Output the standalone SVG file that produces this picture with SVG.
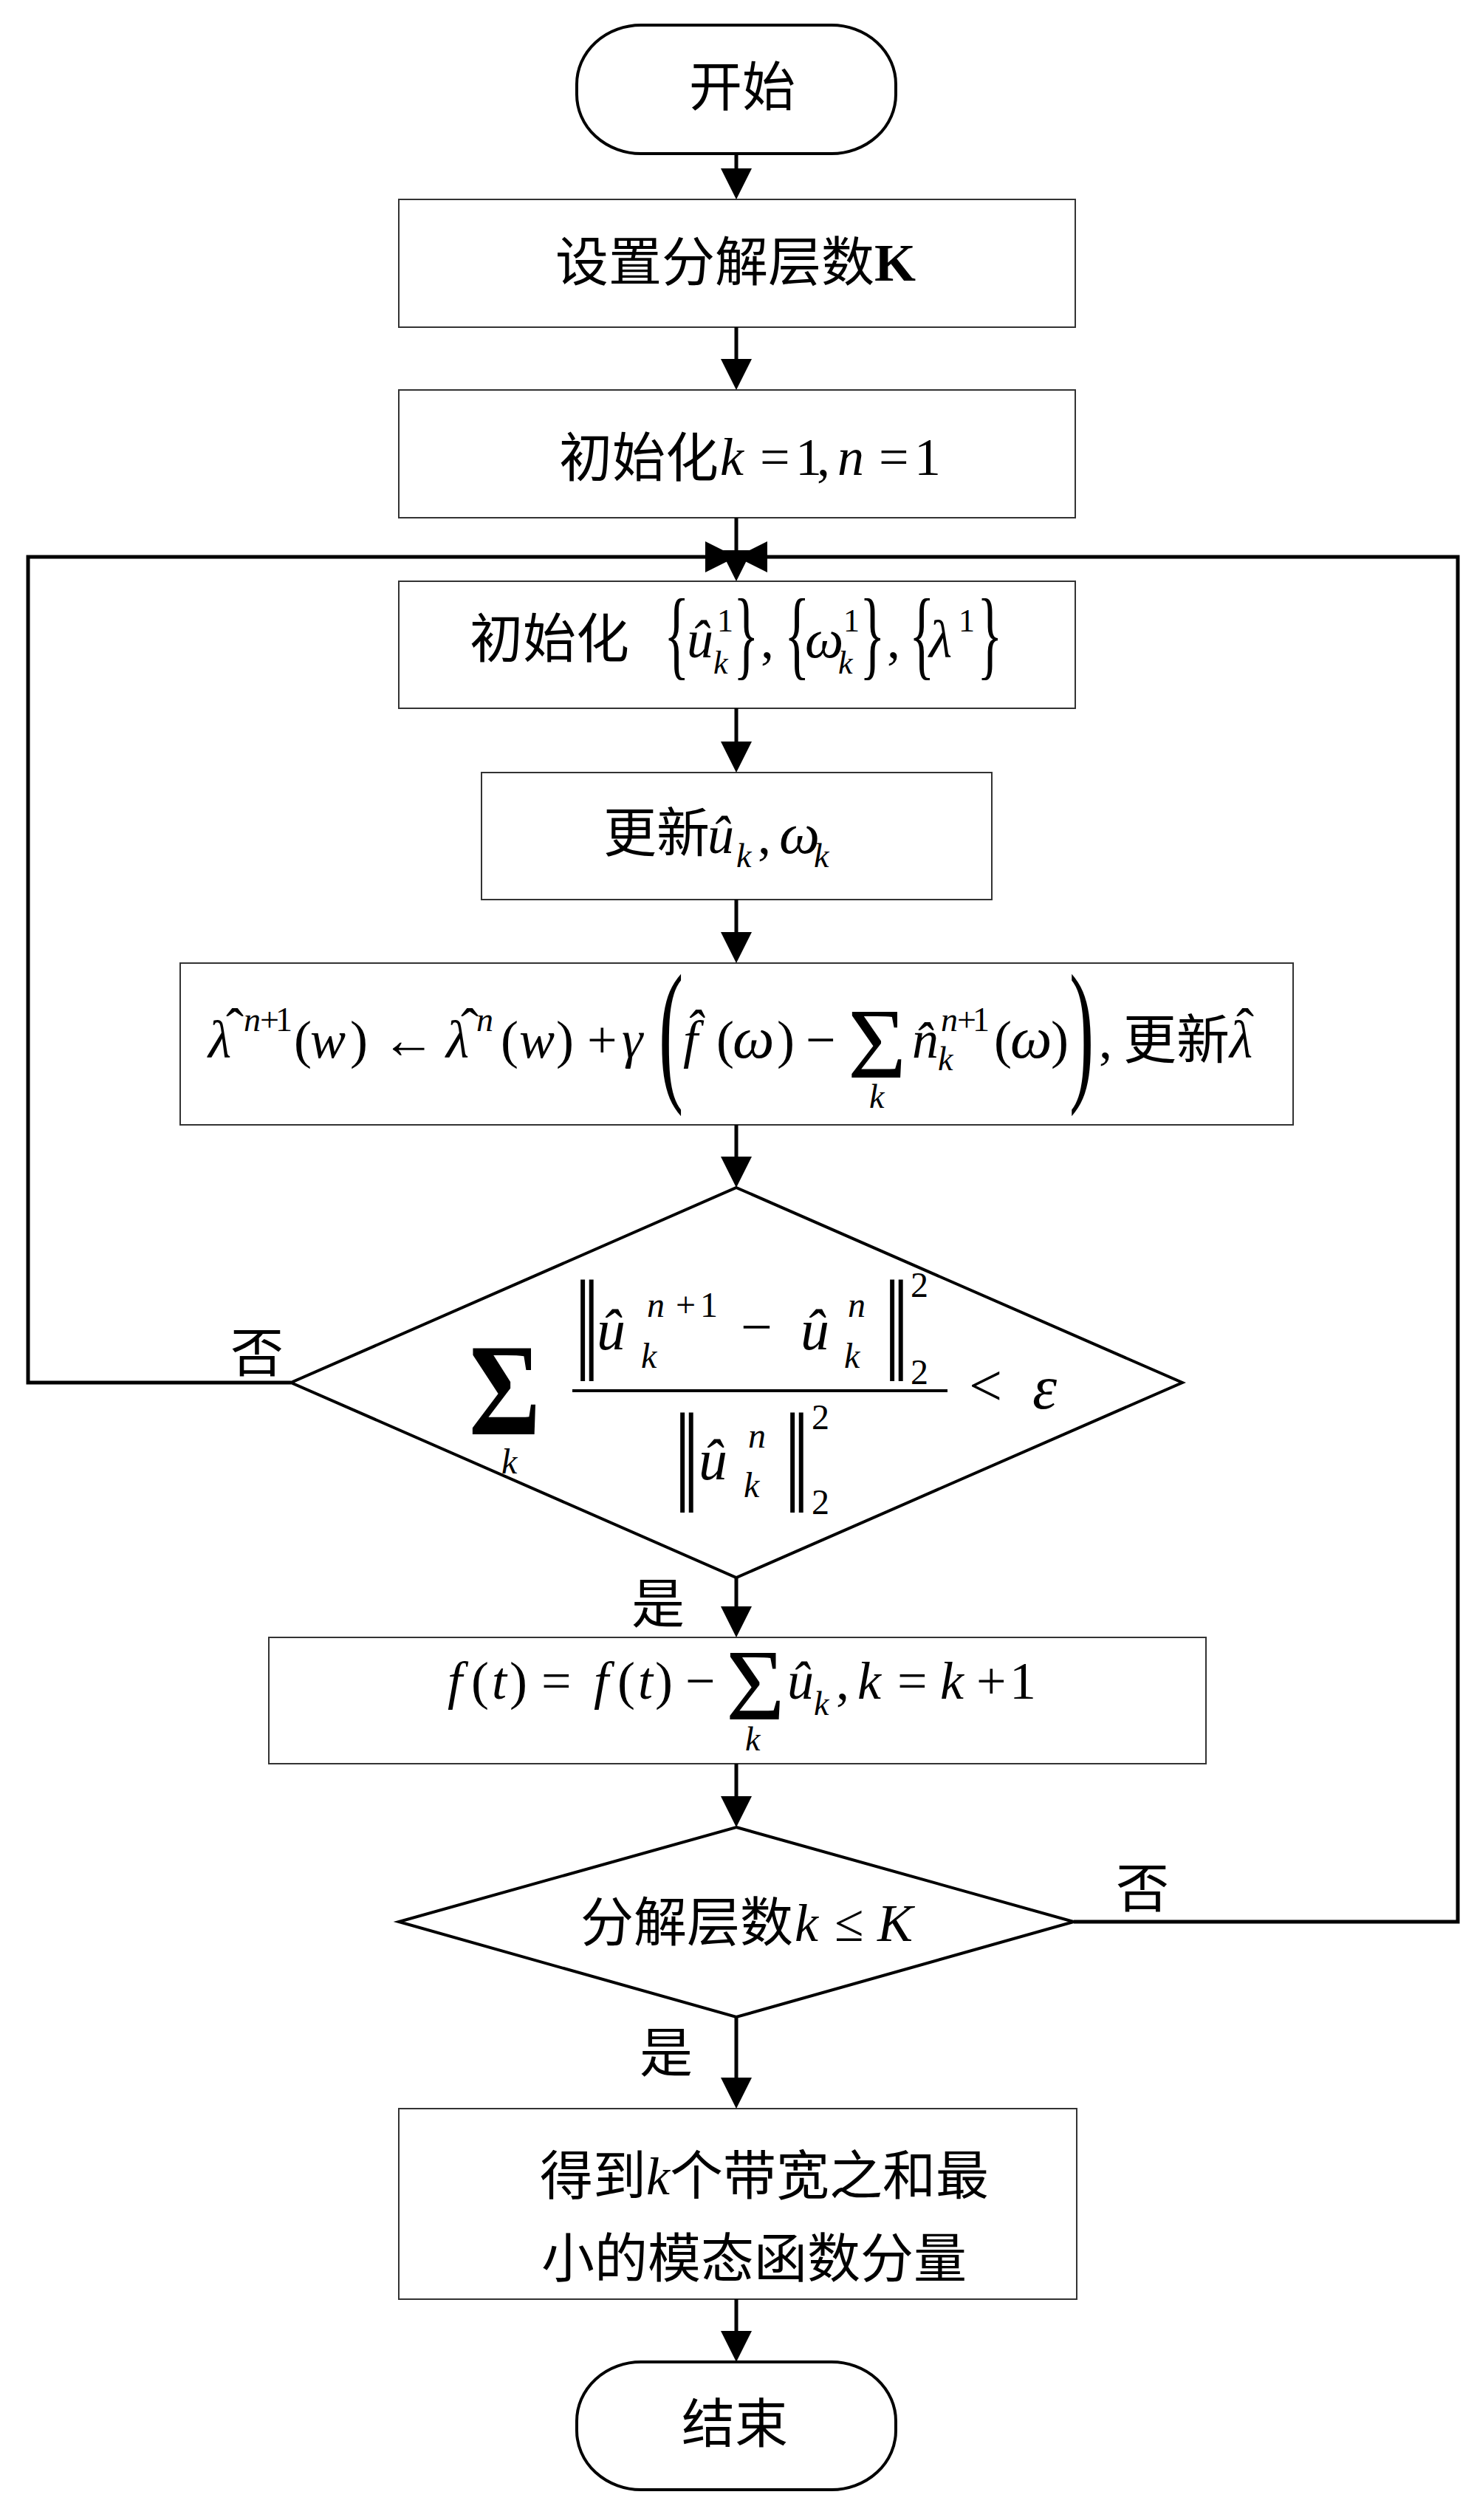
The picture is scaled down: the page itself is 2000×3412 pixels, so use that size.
<svg xmlns="http://www.w3.org/2000/svg" width="2000" height="3412" viewBox="0 0 2000 3412">
<style>
.bg{fill:#fff}
.box{fill:#fff;stroke:#333;stroke-width:2}
.term{fill:#fff;stroke:#000;stroke-width:4}
.dia{fill:#fff;stroke:#000;stroke-width:4;stroke-linejoin:miter}
.conn{fill:none;stroke:#000;stroke-width:5;stroke-linejoin:miter}
.cjk{font-family:"Noto Sans CJK SC","Noto Sans CJK JP",sans-serif;font-size:72px;fill:#000}
.m{font-family:"Liberation Serif","Times New Roman",serif;font-size:72px;fill:#000}
.i{font-style:italic}
.s{font-size:46px}
.bar{font-family:"DejaVu Sans",sans-serif;font-size:72px}
</style>
<defs>
<marker id="ah" markerUnits="userSpaceOnUse" markerWidth="42" markerHeight="42" viewBox="0 0 42 42" refX="22" refY="21" orient="auto">
<path d="M0,0 L42,21 L0,42 Z" fill="#000"/>
</marker>
</defs>
<rect class="bg" x="0" y="0" width="2000" height="3412"/>

<g id="start">
<rect class="term" x="781" y="34" width="432" height="174" rx="87" ry="80"/>
<text class="cjk" x="1005" y="143" font-size="70" text-anchor="middle">开始</text>
</g>

<g id="set-k">
<rect class="box" x="540" y="270" width="916" height="173"/>
<text class="cjk" x="996" y="380" text-anchor="middle">设置分解层数<tspan font-family="Liberation Serif, serif" font-weight="bold">K</tspan></text>
</g>

<g id="init-kn">
<rect class="box" x="540" y="528" width="916" height="173"/>
<text class="cjk" x="757" y="645">初始化</text>
<text class="m" y="643"><tspan class="i" x="975">k</tspan><tspan x="1029">=</tspan><tspan x="1077">1</tspan><tspan x="1106">,</tspan><tspan class="i" x="1134">n</tspan><tspan x="1190">=</tspan><tspan x="1238">1</tspan></text>
</g>

<g id="init-vars">
<rect class="box" x="540" y="787" width="916" height="172"/>
<text class="cjk" x="636" y="890">初始化</text>
<g class="m" font-size="68">
<text transform="translate(899,903) scale(1,1.85)">{</text>
<text transform="translate(993,903) scale(1,1.85)">}</text>
<text transform="translate(1062,903) scale(1,1.85)">{</text>
<text transform="translate(1164,903) scale(1,1.85)">}</text>
<text transform="translate(1231,903) scale(1,1.85)">{</text>
<text transform="translate(1323,903) scale(1,1.85)">}</text>
<text y="890"><tspan class="i" x="930">û</tspan><tspan x="971" y="855" font-size="44">1</tspan><tspan class="i" x="966" y="912" font-size="44">k</tspan><tspan x="1030" y="890">,</tspan><tspan class="i" x="1090" font-size="74">ω</tspan><tspan x="1142" y="855" font-size="44">1</tspan><tspan class="i" x="1135" y="912" font-size="44">k</tspan><tspan x="1201" y="890">,</tspan><tspan class="i" x="1258">λ</tspan><tspan x="1298" y="855" font-size="44">1</tspan></text>
</g>
</g>

<g id="update-u">
<rect class="box" x="652" y="1046" width="691" height="172"/>
<text class="cjk" x="817" y="1153">更新</text>
<text class="m" y="1155"><tspan class="i" x="958">û</tspan><tspan class="i" x="997" y="1174" font-size="46">k</tspan><tspan x="1026" y="1155">,</tspan><tspan class="i" x="1055" font-size="78">ω</tspan><tspan class="i" x="1102" y="1174" font-size="46">k</tspan></text>
</g>

<g id="update-lambda">
<rect class="box" x="244" y="1304" width="1507" height="219"/>
<g class="m">
<text font-size="100" transform="translate(892,1466) scale(1,2.13)">(</text>
<text font-size="100" transform="translate(1448,1466) scale(1,2.13)">)</text>
<text y="1432"><tspan class="i" x="282">λ</tspan><tspan x="306" y="1415">ˆ</tspan><tspan x="330" y="1396" class="i" font-size="46">n</tspan><tspan x="352" font-size="46">+</tspan><tspan x="373" font-size="46">1</tspan><tspan x="398" y="1432">(</tspan><tspan class="i" x="420">w</tspan><tspan x="474">)</tspan><tspan x="517">←</tspan><tspan class="i" x="604">λ</tspan><tspan x="624" y="1415">ˆ</tspan><tspan class="i" x="645" y="1396" font-size="46">n</tspan><tspan x="678" y="1432">(</tspan><tspan class="i" x="703">w</tspan><tspan x="753">)</tspan><tspan x="795">+</tspan><tspan class="i" x="842">γ</tspan><tspan class="i" x="925">f̂</tspan><tspan x="970">(</tspan><tspan class="i" x="992" font-size="80">ω</tspan><tspan x="1052">)</tspan><tspan x="1091">−</tspan><tspan x="1148" y="1459" font-size="136">Σ</tspan><tspan class="i" x="1177" y="1500" font-size="46">k</tspan><tspan class="i" x="1235" y="1432">n̂</tspan><tspan class="i" x="1274" y="1396" font-size="46">n</tspan><tspan x="1296" font-size="46">+</tspan><tspan x="1317" font-size="46">1</tspan><tspan class="i" x="1270" y="1449" font-size="46">k</tspan><tspan x="1346" y="1432">(</tspan><tspan class="i" x="1368" font-size="80">ω</tspan><tspan x="1423">)</tspan><tspan x="1488">,</tspan><tspan class="i" x="1665">λ</tspan><tspan x="1674" y="1415">ˆ</tspan></text>
</g>
<text class="cjk" x="1521" y="1433" font-size="70">更新</text>
</g>

<g id="check-converge">
<polygon class="dia" points="997,1608 1601,1872 997,2136 394,1872"/>
<g class="m">
<text class="bar" transform="translate(777,1838) scale(1,1.9)">‖</text>
<text class="bar" transform="translate(1196,1838) scale(1,1.9)">‖</text>
<text class="bar" transform="translate(912,2016) scale(1,1.87)">‖</text>
<text class="bar" transform="translate(1061,2016) scale(1,1.87)">‖</text>
<line x1="775" y1="1883" x2="1283" y2="1883" stroke="#000" stroke-width="4"/>
<text x="635" y="1942" font-size="177" font-weight="bold" textLength="97" lengthAdjust="spacingAndGlyphs">Σ</text>
<text y="1827"><tspan class="i" x="679" y="1995" font-size="48">k</tspan><tspan class="i" x="808" y="1827" font-size="78">û</tspan><tspan x="876" y="1783" class="i" font-size="48">n</tspan><tspan x="915" font-size="48">+</tspan><tspan x="948" font-size="48">1</tspan><tspan class="i" x="868" y="1852" font-size="48">k</tspan><tspan x="1003" y="1822" font-size="76">−</tspan><tspan class="i" x="1084" y="1827" font-size="78">û</tspan><tspan class="i" x="1148" y="1783" font-size="48">n</tspan><tspan class="i" x="1143" y="1852" font-size="48">k</tspan><tspan x="1233" y="1756" font-size="48">2</tspan><tspan x="1233" y="1874" font-size="48">2</tspan><tspan x="1312" y="1903" font-size="80">&lt;</tspan><tspan class="i" x="1398" y="1907" font-size="84">ε</tspan><tspan class="i" x="946" y="2003" font-size="78">û</tspan><tspan class="i" x="1013" y="1960" font-size="48">n</tspan><tspan class="i" x="1007" y="2027" font-size="48">k</tspan><tspan x="1099" y="1935" font-size="48">2</tspan><tspan x="1099" y="2050" font-size="48">2</tspan></text>
</g>
</g>

<g id="residual">
<rect class="box" x="364" y="2217" width="1269" height="171"/>
<text class="m" y="2300"><tspan class="i" x="606">f</tspan><tspan x="638">(</tspan><tspan class="i" x="666">t</tspan><tspan x="690">)</tspan><tspan x="733">=</tspan><tspan class="i" x="804">f</tspan><tspan x="836">(</tspan><tspan class="i" x="864">t</tspan><tspan x="887">)</tspan><tspan x="928">−</tspan><tspan x="983" y="2328" font-size="137">Σ</tspan><tspan class="i" x="1009" y="2370" font-size="46">k</tspan><tspan class="i" x="1066" y="2300">û</tspan><tspan class="i" x="1102" y="2322" font-size="46">k</tspan><tspan x="1132" y="2300">,</tspan><tspan class="i" x="1161">k</tspan><tspan x="1215">=</tspan><tspan class="i" x="1273">k</tspan><tspan x="1322">+</tspan><tspan x="1367">1</tspan></text>
</g>

<g id="check-k">
<polygon class="dia" points="997,2474 1454,2602 997,2731 540,2602"/>
<text class="cjk" x="786" y="2628">分解层数</text>
<text class="m" y="2628"><tspan class="i" x="1076">k</tspan><tspan x="1130">≤</tspan><tspan class="i" x="1188">K</tspan></text>
</g>

<g id="result">
<rect class="box" x="540" y="2855" width="918" height="258"/>
<text class="cjk" y="2971"><tspan x="731">得到</tspan><tspan x="875" class="m i">k</tspan><tspan x="907">个带宽之和最</tspan></text>
<text class="cjk" x="733" y="3083">小的模态函数分量</text>
</g>

<g id="end">
<rect class="term" x="781" y="3198" width="432" height="173" rx="87" ry="80"/>
<text class="cjk" x="995" y="3307" font-size="70" text-anchor="middle">结束</text>
</g>

<g id="labels">
<text class="cjk" x="348" y="1857" font-size="68" text-anchor="middle">否</text>
<text class="cjk" x="891" y="2197" font-size="68" text-anchor="middle">是</text>
<text class="cjk" x="1547" y="2582" font-size="68" text-anchor="middle">否</text>
<text class="cjk" x="902" y="2805" font-size="68" text-anchor="middle">是</text>
</g>

<g id="connectors">
<path class="conn" d="M997,208 V250" marker-end="url(#ah)"/>
<path class="conn" d="M997,443 V508" marker-end="url(#ah)"/>
<path class="conn" d="M997,701 V767" marker-end="url(#ah)"/>
<path class="conn" d="M997,959 V1026" marker-end="url(#ah)"/>
<path class="conn" d="M997,1218 V1284" marker-end="url(#ah)"/>
<path class="conn" d="M997,1523 V1588" marker-end="url(#ah)"/>
<path class="conn" d="M997,2136 V2197" marker-end="url(#ah)"/>
<path class="conn" d="M997,2388 V2454" marker-end="url(#ah)"/>
<path class="conn" d="M997,2731 V2835" marker-end="url(#ah)"/>
<path class="conn" d="M997,3113 V3178" marker-end="url(#ah)"/>
<path class="conn" d="M394,1872 H38 V754 H977" marker-end="url(#ah)"/>
<path class="conn" d="M1454,2602 H1974 V754 H1017" marker-end="url(#ah)"/>
</g>
</svg>
